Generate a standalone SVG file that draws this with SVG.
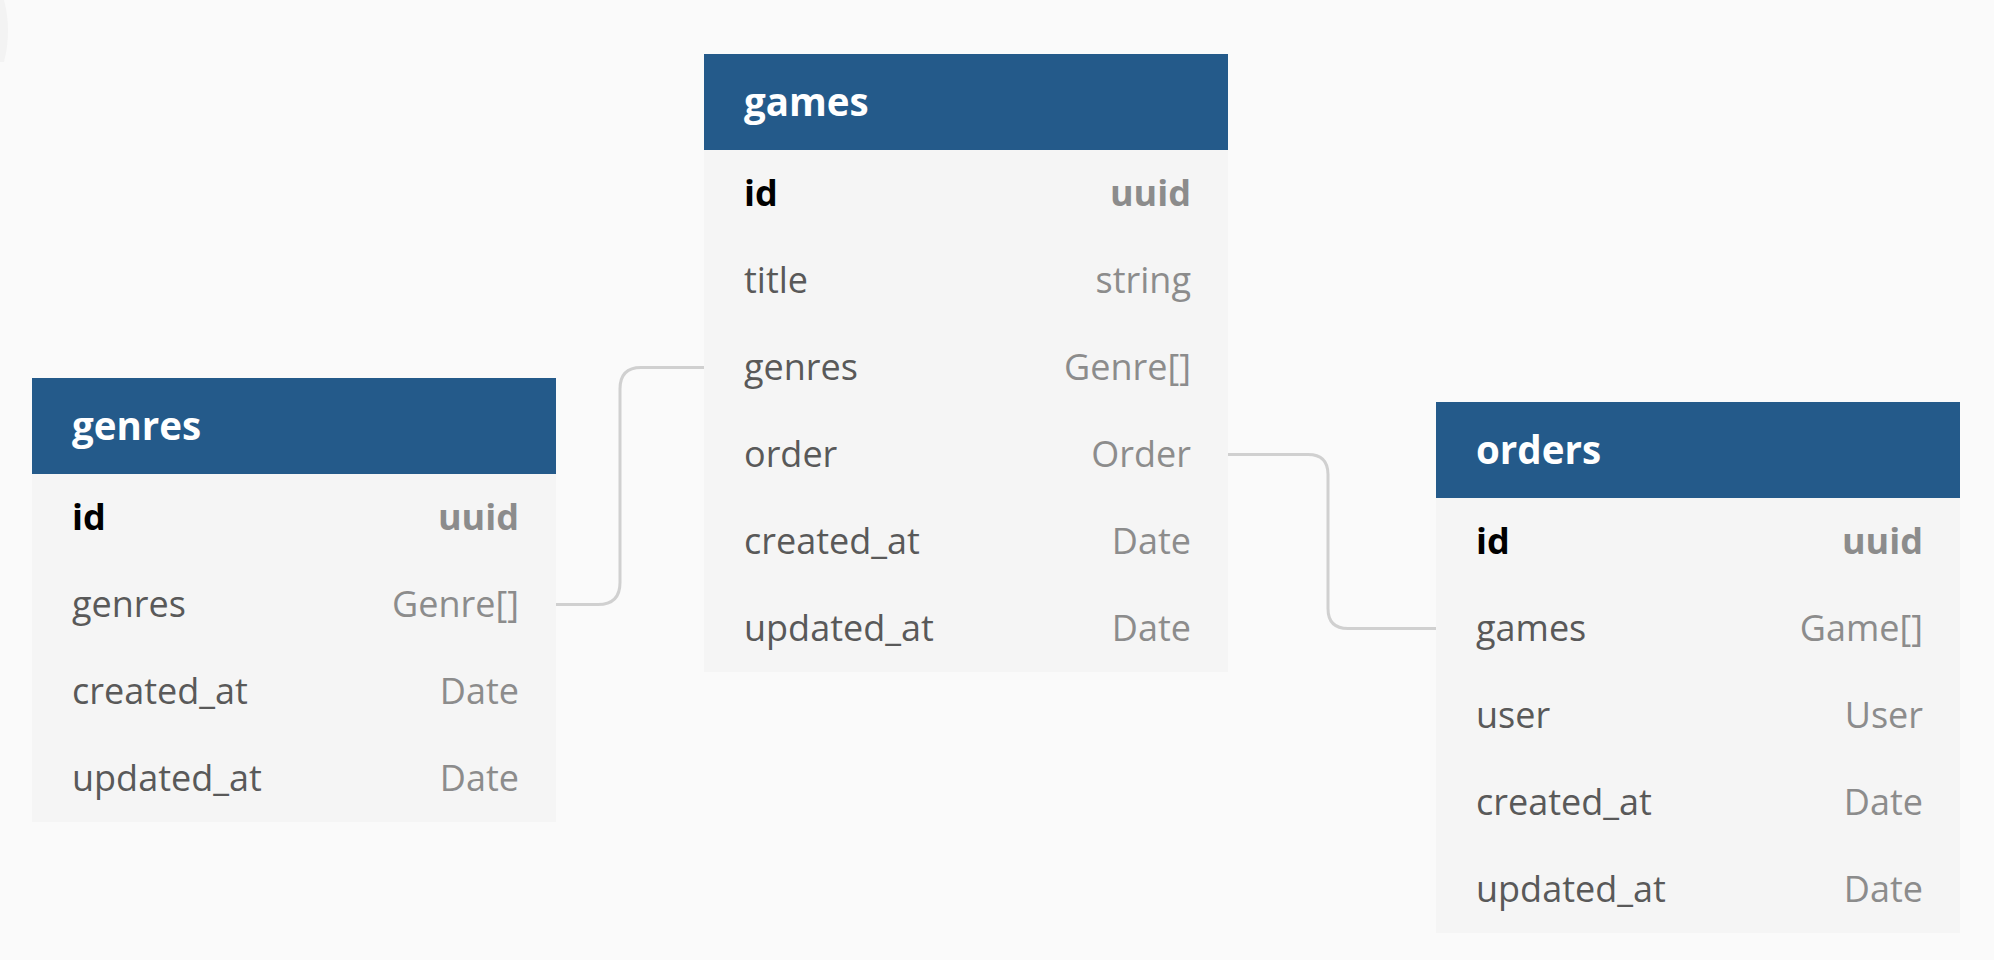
<svg xmlns="http://www.w3.org/2000/svg" width="1994" height="960" viewBox="0 0 1994 960">
  <style>
    .hdr { fill: #245a8a; }
    .body { fill: #f5f5f5; }
    .title { font-family: "Open Sans", "Noto Sans", sans-serif; font-weight: 700; font-size: 38.5px; fill: #ffffff; }
    .f { font-family: "Open Sans", "Noto Sans", sans-serif; font-size: 36px; fill: #595959; }
    .t { font-family: "Open Sans", "Noto Sans", sans-serif; font-size: 36px; fill: #8c8c8c; text-anchor: end; }
    .fk { font-family: "Open Sans", "Noto Sans", sans-serif; font-size: 36px; font-weight: 700; fill: #000000; }
    .tk { font-family: "Open Sans", "Noto Sans", sans-serif; font-size: 36px; font-weight: 700; fill: #8c8c8c; text-anchor: end; }
    .conn { fill: none; stroke: #d0d0d0; stroke-width: 3; }
  </style>
  <rect x="0" y="0" width="1994" height="960" fill="#fafafa"/>
  <path d="M0 0 H4 Q12 30 4 62 H0 Z" fill="#f3f3f3"/>

  <g id="connectors">
    <path class="conn" d="M556 604.5 H598 Q620 604.5 620 582.5 V389 Q620 367.5 641 367.5 H704"/>
    <path class="conn" d="M1228 454.5 H1308 Q1328 454.5 1328 474.5 V608.5 Q1328 628.5 1348 628.5 H1436"/>
  </g>

  <g id="genres">
    <rect class="body" x="32" y="474" width="524" height="348"/>
    <rect class="hdr" x="32" y="378" width="524" height="96"/>
    <text class="title" x="72" y="440">genres</text>
    <text class="fk" x="72" y="530">id</text>
    <text class="tk" x="519" y="530">uuid</text>
    <text class="f" x="72" y="617">genres</text>
    <text class="t" x="519" y="617">Genre[]</text>
    <text class="f" x="72" y="704">created_at</text>
    <text class="t" x="519" y="704">Date</text>
    <text class="f" x="72" y="791">updated_at</text>
    <text class="t" x="519" y="791">Date</text>
  </g>

  <g id="games">
    <rect class="body" x="704" y="150" width="524" height="522"/>
    <rect class="hdr" x="704" y="54" width="524" height="96"/>
    <text class="title" x="744" y="116">games</text>
    <text class="fk" x="744" y="206">id</text>
    <text class="tk" x="1191" y="206">uuid</text>
    <text class="f" x="744" y="293">title</text>
    <text class="t" x="1191" y="293">string</text>
    <text class="f" x="744" y="380">genres</text>
    <text class="t" x="1191" y="380">Genre[]</text>
    <text class="f" x="744" y="467">order</text>
    <text class="t" x="1191" y="467">Order</text>
    <text class="f" x="744" y="554">created_at</text>
    <text class="t" x="1191" y="554">Date</text>
    <text class="f" x="744" y="641">updated_at</text>
    <text class="t" x="1191" y="641">Date</text>
  </g>

  <g id="orders">
    <rect class="body" x="1436" y="498" width="524" height="435"/>
    <rect class="hdr" x="1436" y="402" width="524" height="96"/>
    <text class="title" x="1476" y="464">orders</text>
    <text class="fk" x="1476" y="554">id</text>
    <text class="tk" x="1923" y="554">uuid</text>
    <text class="f" x="1476" y="641">games</text>
    <text class="t" x="1923" y="641">Game[]</text>
    <text class="f" x="1476" y="728">user</text>
    <text class="t" x="1923" y="728">User</text>
    <text class="f" x="1476" y="815">created_at</text>
    <text class="t" x="1923" y="815">Date</text>
    <text class="f" x="1476" y="902">updated_at</text>
    <text class="t" x="1923" y="902">Date</text>
  </g>
</svg>
